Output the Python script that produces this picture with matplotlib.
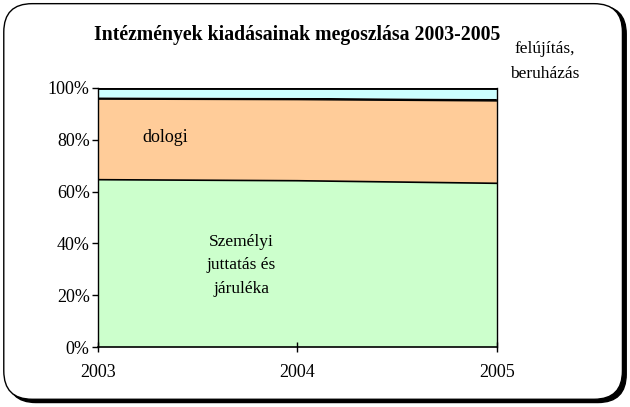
import matplotlib
matplotlib.use("Agg")
import matplotlib.pyplot as plt
from matplotlib.patches import FancyBboxPatch
import numpy as np

years = [2003, 2004, 2005]
szemelyi = [64.6, 64.2, 63.2]
dologi = [31.1, 31.3, 31.8]
egyeb = [0.7, 0.7, 0.8]
felujitas = [3.6, 3.8, 4.2]
yticks = [0, 20, 40, 60, 80, 100]
ytick_labels = ["0%", "20%", "40%", "60%", "80%", "100%"]

plt.rcParams['font.family'] = ['Liberation Serif', 'DejaVu Serif']

fig = plt.figure(figsize=(6.3, 4.07), dpi=100)

# rounded frame with shadow
shadow = FancyBboxPatch((0.012, 0.011), 0.982, 0.975, boxstyle="round,pad=0,rounding_size=0.045",
                        transform=fig.transFigure, facecolor="black", edgecolor="black",
                        mutation_aspect=630/407, zorder=0)
frame = FancyBboxPatch((0.006, 0.019), 0.982, 0.972, boxstyle="round,pad=0,rounding_size=0.045",
                       transform=fig.transFigure, facecolor="white", edgecolor="black", lw=1.0,
                       mutation_aspect=630/407, zorder=1)
fig.patches.extend([shadow, frame])

ax = fig.add_axes([0.1556, 0.1474, 0.633, 0.6364])
ax.set_zorder(2)
ax.patch.set_alpha(0)

x = np.array(years)
s1 = np.array(szemelyi)
s2 = s1 + np.array(dologi)
s3 = s2 + np.array(egyeb)
s4 = s3 + np.array(felujitas)

ax.fill_between(x, 0, s1, facecolor="#CCFFCC", edgecolor="none")
ax.fill_between(x, s1, s2, facecolor="#FFCC99", edgecolor="none")
ax.fill_between(x, s2, s3, facecolor="black", edgecolor="none")
ax.fill_between(x, s3, s4, facecolor="#CCFFFF", edgecolor="none")
ax.plot(x, s1, color="black", lw=1.2)
ax.plot(x, s2, color="black", lw=1.0)
ax.plot(x, s4, color="black", lw=2.8, solid_capstyle="butt")

ax.set_xlim(2003, 2005)
ax.set_ylim(0, 100)
ax.set_yticks(yticks)
ax.set_yticklabels(ytick_labels, fontsize=13)
ax.set_xticks(years)
ax.set_xticklabels([str(y) for y in years], fontsize=13)
ax.tick_params(axis="y", direction="out", length=4, width=1, pad=2)
ax.tick_params(axis="x", direction="inout", length=7, width=1, pad=9)
ax.spines["top"].set_visible(False)
ax.spines["right"].set_linewidth(1.0)
ax.spines["left"].set_linewidth(1.0)
ax.spines["bottom"].set_linewidth(1.2)

ax.text(2003.336, 80.8, "dologi", fontsize=13, ha="center", va="center")
ax.text(2003.72, 31.5, "Személyi\njuttatás és\njáruléka", fontsize=12.5, ha="center", va="center",
        linespacing=1.6)
ax.text(2005.24, 110.2, "felújítás,\nberuházás", fontsize=12.5, ha="center", va="center",
        linespacing=1.7, clip_on=False)

fig.text(0.472, 0.913, "Intézmények kiadásainak megoszlása 2003-2005", fontsize=14.2,
         fontweight="bold", ha="center", va="center")

fig.savefig("out.png", dpi=100)
